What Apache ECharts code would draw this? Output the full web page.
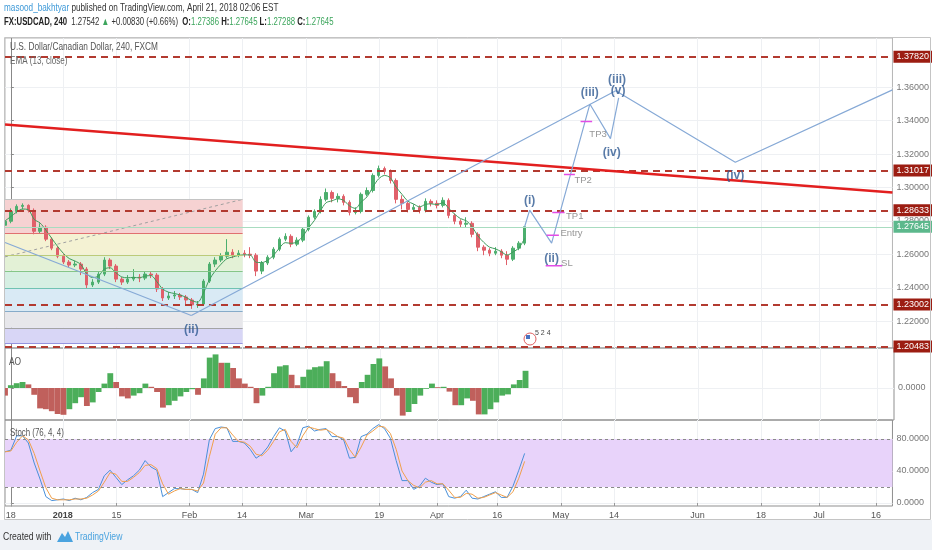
<!DOCTYPE html>
<html>
<head>
<meta charset="utf-8">
<script src="https://cdn.jsdelivr.net/npm/echarts@6/dist/echarts.min.js"></script>
<style>
html,body{margin:0;padding:0;background:#fff;}
#main{width:932px;height:550px;}
</style>
</head>
<body>
<div id="main"></div>
<script>
const FONT = '"Liberation Sans","DejaVu Sans",sans-serif';

// x = trading-day index, 0 = Mon 18 Dec 2017
const xTickPos  = [0, 8.9, 18.1, 30.6, 39.6, 50.6, 63.1, 73.0, 83.3, 94.2, 103.3, 117.6, 128.5, 138.4, 148.2];
const xTickText = ['18', '2018', '15', 'Feb', '14', 'Mar', '19', 'Apr', '16', 'May', '14', 'Jun', '18', 'Jul', '16'];
const priceTicks = [1.22, 1.24, 1.26, 1.28, 1.30, 1.32, 1.34, 1.36];
const aoTicks = [0];
const stochTicks = [0, 40, 80];

const firstDay = -1;
// daily [open, close, low, high]
const candles = [
  [1.2774,1.2798,1.2756,1.2839],[1.2798,1.2857,1.2786,1.2875],[1.2857,1.2887,1.2845,1.2899],
  [1.2887,1.2893,1.2869,1.2905],[1.2893,1.2863,1.2851,1.2899],[1.2863,1.2738,1.2720,1.2875],
  [1.2738,1.2762,1.2726,1.2786],[1.2762,1.2691,1.2679,1.2774],[1.2691,1.2637,1.2625,1.2702],
  [1.2637,1.2589,1.2577,1.2649],[1.2589,1.2554,1.2542,1.2601],[1.2554,1.2536,1.2524,1.2566],
  [1.2536,1.2542,1.2524,1.2560],[1.2542,1.2512,1.2476,1.2554],[1.2512,1.2417,1.2393,1.2524],
  [1.2417,1.2434,1.2405,1.2452],[1.2434,1.2482,1.2423,1.2494],[1.2482,1.2566,1.2470,1.2583],
  [1.2566,1.2530,1.2512,1.2577],[1.2530,1.2452,1.2434,1.2542],[1.2452,1.2434,1.2417,1.2464],
  [1.2434,1.2452,1.2423,1.2476],[1.2452,1.2464,1.2440,1.2512],[1.2464,1.2458,1.2434,1.2482],
  [1.2458,1.2482,1.2446,1.2500],[1.2482,1.2476,1.2458,1.2494],[1.2476,1.2393,1.2375,1.2488],
  [1.2393,1.2339,1.2321,1.2405],[1.2339,1.2351,1.2327,1.2375],[1.2351,1.2357,1.2333,1.2381],
  [1.2357,1.2345,1.2327,1.2369],[1.2345,1.2327,1.2303,1.2357],[1.2327,1.2298,1.2274,1.2339],
  [1.2298,1.2303,1.2280,1.2321],[1.2303,1.2440,1.2292,1.2452],[1.2440,1.2542,1.2429,1.2554],
  [1.2542,1.2566,1.2524,1.2583],[1.2566,1.2589,1.2554,1.2607],[1.2589,1.2613,1.2577,1.2691],
  [1.2613,1.2595,1.2577,1.2631],[1.2595,1.2607,1.2583,1.2625],[1.2607,1.2601,1.2583,1.2625],
  [1.2601,1.2595,1.2577,1.2643],[1.2595,1.2500,1.2470,1.2607],[1.2500,1.2548,1.2482,1.2560],
  [1.2548,1.2583,1.2536,1.2595],[1.2583,1.2631,1.2571,1.2643],[1.2631,1.2691,1.2619,1.2702],
  [1.2691,1.2708,1.2679,1.2726],[1.2708,1.2661,1.2643,1.2720],[1.2661,1.2685,1.2649,1.2702],
  [1.2685,1.2750,1.2673,1.2762],[1.2750,1.2822,1.2738,1.2833],[1.2822,1.2857,1.2810,1.2869],
  [1.2857,1.2929,1.2845,1.2947],[1.2929,1.2970,1.2917,1.2994],[1.2970,1.2935,1.2911,1.2982],
  [1.2935,1.2947,1.2911,1.2965],[1.2947,1.2911,1.2893,1.2959],[1.2911,1.2851,1.2833,1.2923],
  [1.2851,1.2857,1.2839,1.2881],[1.2857,1.2959,1.2845,1.2970],[1.2959,1.2982,1.2947,1.3000],
  [1.2982,1.3072,1.2970,1.3084],[1.3072,1.3113,1.3060,1.3131],[1.3113,1.3096,1.3078,1.3125],
  [1.3096,1.3042,1.3024,1.3108],[1.3042,1.2929,1.2905,1.3054],[1.2929,1.2905,1.2869,1.2953],
  [1.2905,1.2869,1.2851,1.2917],[1.2869,1.2881,1.2857,1.2899],[1.2881,1.2863,1.2845,1.2893],
  [1.2863,1.2917,1.2851,1.2935],[1.2917,1.2905,1.2887,1.2929],[1.2905,1.2893,1.2875,1.2923],
  [1.2893,1.2923,1.2881,1.2941],[1.2923,1.2833,1.2816,1.2935],[1.2833,1.2798,1.2780,1.2845],
  [1.2798,1.2780,1.2762,1.2810],[1.2780,1.2786,1.2762,1.2822],[1.2786,1.2720,1.2702,1.2798],
  [1.2720,1.2643,1.2619,1.2732],[1.2643,1.2625,1.2595,1.2655],[1.2625,1.2607,1.2589,1.2637],
  [1.2607,1.2619,1.2595,1.2643],[1.2619,1.2595,1.2577,1.2631],[1.2595,1.2571,1.2536,1.2619],
  [1.2571,1.2637,1.2560,1.2649],[1.2637,1.2667,1.2625,1.2679],[1.2667,1.2765,1.2655,1.2765]
];
const emaValues = [
  1.2800,1.2826,1.2853,1.2871,1.2867,1.2809,1.2788,1.2745,1.2696,1.2648,1.2606,1.2575,1.2560,1.2539,1.2484,
  1.2461,1.2470,1.2512,1.2520,1.2490,1.2465,1.2460,1.2462,1.2460,1.2470,1.2473,1.2437,1.2393,1.2374,1.2366,
  1.2357,1.2343,1.2323,1.2314,1.2370,1.2448,1.2501,1.2541,1.2574,1.2584,1.2594,1.2597,1.2596,1.2553,1.2551,
  1.2565,1.2595,1.2638,1.2670,1.2666,1.2674,1.2708,1.2759,1.2803,1.2860,1.2909,1.2920,1.2932,1.2923,1.2890,
  1.2875,1.2913,1.2944,1.3002,1.3052,1.3072,1.3058,1.3002,1.2959,1.2918,1.2901,1.2884,1.2899,1.2902,1.2898,
  1.2909,1.2875,1.2841,1.2814,1.2801,1.2765,1.2710,1.2672,1.2643,1.2633,1.2616,1.2596,1.2614,1.2638,1.2695
];
const aoValues = [
  -0.0019,0.0007,0.0012,0.0015,0.0009,-0.0017,-0.0051,-0.0053,-0.0058,-0.0065,-0.0067,-0.0053,-0.0038,-0.0023,-0.0045,
  -0.0036,-0.0010,0.0011,0.0037,0.0015,-0.0021,-0.0026,-0.0019,-0.0013,0.0011,0.0003,-0.0010,-0.0049,-0.0043,-0.0032,
  -0.0021,-0.0010,-0.0003,-0.0017,0.0024,0.0076,0.0084,0.0063,0.0063,0.0050,0.0024,0.0011,0.0003,-0.0038,-0.0019,
  0.0003,0.0037,0.0054,0.0057,0.0033,0.0007,0.0028,0.0046,0.0052,0.0054,0.0067,0.0037,0.0017,0.0005,-0.0023,
  -0.0038,0.0015,0.0033,0.0060,0.0074,0.0054,0.0024,-0.0019,-0.0069,-0.0060,-0.0040,-0.0019,-0.0002,0.0011,0.0002,
  0.0003,-0.0009,-0.0043,-0.0043,-0.0026,-0.0032,-0.0066,-0.0066,-0.0053,-0.0036,-0.0019,-0.0016,0.0009,0.0020,0.0043
];
const stochK = [
  64,66,84,84,75,50,30,8,3,4,5,3,6,4,7,13,17,34,41,32,23,29,34,41,53,45,41,8,13,18,
  18,17,17,13,36,79,93,95,94,77,77,75,67,56,61,70,83,94,90,64,73,94,96,90,92,93,83,83,79,56,
  57,83,86,93,98,93,81,53,28,28,17,21,31,26,23,24,8,6,8,16,6,5,8,11,14,7,7,21,41,62
];
const stochD = [
  64,65,76,84,79,62,40,19,6,4,4,4,5,5,6,10,15,26,38,36,27,27,32,38,47,48,43,24,11,15,
  18,17,17,15,25,58,86,94,94,85,77,76,71,61,59,66,77,89,92,77,69,84,95,93,91,92,88,83,81,67,
  57,70,85,90,96,95,87,67,40,28,22,19,26,28,24,24,16,7,7,12,11,6,7,10,13,10,7,14,31,52
];

const levelPrices = [1.37820, 1.31017, 1.28633, 1.23002, 1.20483];
const lastPrice = 1.27645;

// fibonacci box
const fibX = [-1, 39.7];
const fibPrices = [1.2929, 1.2726, 1.2597, 1.2502, 1.2399, 1.2258, 1.2161, 1.2069];
const fibFills = ['#f6d2d2', '#f4f2d3', '#e3f1d6', '#d6efe3', '#d9eaf5', '#e7e7eb', '#d8d6f6'];
const fibLines = ['#c4c4c4', '#e07070', '#bccb78', '#86c688', '#70c2b3', '#86abc9', '#a4a4a4', '#9494e0'];

// drawings [day, price]
const trendLine = [[-1, 1.3376], [151, 1.2970]];
const dottedLine = [[-1, 1.2585], [39.7, 1.2929]];
const waveLeft = [[-1, 1.2671], [30.91, 1.2234]];
const waveBig = [[30.91, 1.2234], [103.6, 1.3578], [124.08, 1.3151], [151, 1.3584]];
const waveSmall = [[88, 1.2765], [88.86, 1.2865], [92.62, 1.2667], [99.17, 1.3499], [102.7, 1.3292], [104.1, 1.3536]];
const tradeMarks = [
  { name: 'TP3', from: 97.58, to: 99.56, price: 1.3395, labelDay: 99.0, labelPrice: 1.3316 },
  { name: 'TP2', from: 94.73, to: 96.61, price: 1.3078, labelDay: 96.44, labelPrice: 1.3044 },
  { name: 'TP1', from: 92.73, to: 94.85, price: 1.2850, labelDay: 95.0, labelPrice: 1.2829 },
  { name: 'Entry', from: 91.77, to: 93.87, price: 1.2714, labelDay: 94.04, labelPrice: 1.2726 },
  { name: 'SL', from: 91.6, to: 94.44, price: 1.2532, labelDay: 94.16, labelPrice: 1.2547 }
];
const waveLabels = [
  ['(i)', 88.86, 1.2919], ['(ii)', 92.62, 1.2577], ['(iii)', 99.17, 1.3564], ['(iv)', 102.9, 1.3207],
  ['(iii)', 103.84, 1.3644], ['(v)', 104.0, 1.3578], ['(iv)', 124.08, 1.3072], ['(ii)', 30.91, 1.2149]
];

const UP = '#4caf6e', DOWN = '#e0606a';

function xLabel(v) {
  const i = xTickPos.findIndex(p => Math.abs(p - v) < 1e-6);
  if (i < 0) return '';
  return xTickText[i] === '2018' ? '{b|2018}' : xTickText[i];
}
function xAxisCfg(idx, showLabels) {
  return {
    type: 'value', gridIndex: idx, min: -1, max: 151,
    axisLine: { show: false },
    axisTick: { show: showLabels, customValues: xTickPos, length: 3, lineStyle: { color: '#999' } },
    axisLabel: {
      show: showLabels, customValues: xTickPos, formatter: xLabel, color: '#555',
      fontSize: 9, fontFamily: FONT, margin: 5,
      rich: { b: { fontWeight: 'bold', fontSize: 9, color: '#444', fontFamily: FONT } }
    },
    splitLine: { show: true, lineStyle: { color: '#eef0f3', width: 1 } }
  };
}
function yAxisCfg(idx, min, max, ticks, digits) {
  return {
    type: 'value', gridIndex: idx, position: 'right', min: min, max: max,
    axisLine: { show: true, lineStyle: { color: '#888' } },
    axisTick: { show: true, customValues: ticks, length: 3, lineStyle: { color: '#888' } },
    axisLabel: {
      customValues: ticks, formatter: v => v.toFixed(digits), color: '#777',
      fontSize: 9, fontFamily: FONT, margin: 4
    },
    splitLine: { show: true, lineStyle: { color: '#eef0f3', width: 1 } }
  };
}

const series = [];

// fib retracement box
series.push({
  type: 'line', name: 'fib', xAxisIndex: 0, yAxisIndex: 0, data: [], z: 1, silent: true,
  markArea: {
    silent: true,
    data: fibFills.map((c, i) => [
      { xAxis: fibX[0], yAxis: fibPrices[i], itemStyle: { color: c } },
      { xAxis: fibX[1], yAxis: fibPrices[i + 1] }
    ])
  },
  markLine: {
    silent: true, symbol: ['none', 'none'], label: { show: false }, precision: 5,
    data: fibPrices.map((p, i) => [
      { coord: [fibX[0], p], lineStyle: { color: fibLines[i], width: 1, type: 'solid' } },
      { coord: [fibX[1], p] }
    ])
  }
});
series.push({
  type: 'line', name: 'dotted', data: dottedLine, z: 2, silent: true, symbol: 'none',
  lineStyle: { color: '#a0a0a0', width: 1, type: [3, 3] }
});

series.push({
  type: 'candlestick', name: 'USDCAD', xAxisIndex: 0, yAxisIndex: 0, z: 3, silent: true,
  barWidth: 3, clip: true,
  data: candles.map((c, i) => [firstDay + i].concat(c)),
  itemStyle: { color: UP, color0: DOWN, borderColor: UP, borderColor0: DOWN, borderWidth: 1 },
  markLine: {
    silent: true, symbol: ['none', 'none'], precision: 5,
    lineStyle: { color: '#b23a30', type: [7, 5], width: 2 },
    label: {
      show: true, position: 'end', distance: 1, formatter: p => p.name,
      color: '#fff', backgroundColor: '#9c1d12', padding: [2, 3, 1, 3], fontSize: 9, fontFamily: FONT
    },
    data: levelPrices.map(v => ({ yAxis: v, name: v.toFixed(5) })).concat([{
      yAxis: lastPrice, name: lastPrice.toFixed(5), lineStyle: { color: '#a8dcc0', type: 'solid', width: 1 },
      label: { backgroundColor: '#5cb88c' }
    }])
  }
});

series.push({
  type: 'line', name: 'EMA', data: emaValues.map((v, i) => [firstDay + i, v]), z: 4, silent: true,
  symbol: 'none', smooth: 0.3, lineStyle: { color: '#3d9b5b', width: 1 }
});

series.push({
  type: 'line', name: 'trend', data: trendLine, z: 5, silent: true, symbol: 'none',
  lineStyle: { color: '#e21f1f', width: 2.5 }
});
[waveLeft, waveBig, waveSmall].forEach(w => series.push({
  type: 'line', data: w, z: 5, silent: true, symbol: 'none',
  lineStyle: { color: '#86a9d6', width: 1.2 }
}));
tradeMarks.forEach(m => series.push({
  type: 'line', data: [[m.from, m.price], [m.to, m.price]], z: 5, silent: true, symbol: 'none',
  lineStyle: { color: '#e24de6', width: 1.6 }
}));
series.push({
  type: 'scatter', data: tradeMarks.map(m => [m.labelDay, m.labelPrice, m.name]), z: 6, silent: true,
  symbolSize: 1, itemStyle: { color: 'rgba(0,0,0,0)' },
  label: { show: true, position: 'right', distance: 0, formatter: p => p.value[2], color: '#7b7b7b', fontSize: 9.5, fontFamily: FONT }
});
series.push({
  type: 'scatter', data: waveLabels.map(w => [w[1], w[2], w[0]]), z: 6, silent: true,
  symbolSize: 1, itemStyle: { color: 'rgba(0,0,0,0)' },
  label: {
    show: true, position: 'inside', formatter: p => p.value[2], color: '#2f5a92',
    fontSize: 12, fontWeight: 'bold', fontFamily: FONT
  }
});

// Awesome oscillator
series.push({
  type: 'bar', name: 'AO', xAxisIndex: 1, yAxisIndex: 1, silent: true, barWidth: '100%', clip: true,
  data: aoValues.map((v, i) => ({
    value: [firstDay + i, v],
    itemStyle: { color: (i > 0 && v >= aoValues[i - 1]) ? '#4cae5a' : '#c0605c' }
  }))
});

// Stochastic
series.push({
  type: 'line', name: 'K', xAxisIndex: 2, yAxisIndex: 2, silent: true, symbol: 'none', z: 3,
  data: stochK.map((v, i) => [firstDay + i, v]), lineStyle: { color: '#4a90d9', width: 1 },
  markArea: {
    silent: true, itemStyle: { color: '#e8d3fa' },
    data: [[{ xAxis: -1, yAxis: 20 }, { xAxis: 151, yAxis: 80 }]]
  },
  markLine: {
    silent: true, symbol: ['none', 'none'], label: { show: false },
    lineStyle: { color: '#8a8a8a', type: [3, 3], width: 1 },
    data: [{ yAxis: 20 }, { yAxis: 80 }]
  }
});
series.push({
  type: 'line', name: 'D', xAxisIndex: 2, yAxisIndex: 2, silent: true, symbol: 'none', z: 3,
  data: stochD.map((v, i) => [firstDay + i, v]), lineStyle: { color: '#f0a04b', width: 1 }
});

// narrow text: the original uses a condensed face
const txt = (x, y, text, fill, sx, extra) => ({
  type: 'text', x: x, y: y, scaleX: sx, silent: true, z: 60,
  style: Object.assign({ text: text, fill: fill, font: '10.5px ' + FONT, verticalAlign: 'middle' }, extra || {})
});

const option = {
  backgroundColor: '#ffffff',
  animation: false,
  grid: [
    { left: 5, top: 38, width: 889, height: 310, show: true, borderColor: '#b5b5b5', borderWidth: 1, backgroundColor: '#fff' },
    { left: 5, top: 348, width: 889, height: 72, show: true, borderColor: '#8f8f8f', borderWidth: 1 },
    { left: 5, top: 420, width: 889, height: 86, show: true, borderColor: '#8f8f8f', borderWidth: 1 }
  ],
  xAxis: [xAxisCfg(0, false), xAxisCfg(1, false), xAxisCfg(2, true)],
  yAxis: [
    yAxisCfg(0, 1.2040, 1.3894, priceTicks, 5),
    yAxisCfg(1, -0.008, 0.010, aoTicks, 4),
    yAxisCfg(2, -3.75, 103.75, stochTicks, 4)
  ],
  series: series,
  graphic: [
    { type: 'rect', silent: true, z: -1, shape: { x: 0, y: 520, width: 932, height: 30 }, style: { fill: '#eff2f6' } },
    { type: 'rect', silent: true, z: 45, shape: { x: 0, y: 38, width: 4.5, height: 482 }, style: { fill: '#fff' } },
    { type: 'rect', silent: true, z: 50, shape: { x: 4.5, y: 37.5, width: 926, height: 482 }, style: { fill: 'none', stroke: '#c4c4c4', lineWidth: 1 } },
    txt(4, 8, '{u|masood_bakhtyar}{t| published on TradingView.com, April 21, 2018 02:06 EST}', '#333', 0.78, {
      rich: { u: { fill: '#3f9ad8', font: '10.5px ' + FONT }, t: { fill: '#333', font: '10.5px ' + FONT } }
    }),
    txt(4, 22, '{b|FX:USDCAD, 240}{t|  1.27542 }{g|▲}{t| +0.00830 (+0.66%)  }{b|O:}{g|1.27386}{t| }{b|H:}{g|1.27645}{t| }{b|L:}{g|1.27288}{t| }{b|C:}{g|1.27645}', '#333', 0.74, {
      rich: {
        b: { fill: '#222', font: 'bold 10.5px ' + FONT },
        t: { fill: '#333', font: '10.5px ' + FONT },
        g: { fill: '#3ca55c', font: '10.5px ' + FONT }
      }
    }),
    txt(10, 47.5, 'U.S. Dollar/Canadian Dollar, 240, FXCM', '#555', 0.79),
    txt(10, 61, 'EMA (13, close)', '#666', 0.77),
    txt(9, 362, 'AO', '#555', 0.8),
    txt(10, 433, 'Stoch (76, 4, 4)', '#555', 0.75),
    txt(3, 537, 'Created with', '#333', 0.82),
    { type: 'polygon', silent: true, shape: { points: [[57, 542], [62, 533], [65, 537], [68, 531], [73, 542]] }, style: { fill: '#4aa3df' } },
    txt(75, 537, 'TradingView', '#4aa3df', 0.82),
    { type: 'circle', silent: true, z: 40, shape: { cx: 530, cy: 339, r: 6 }, style: { fill: '#fff', stroke: '#e06060', lineWidth: 1 } },
    { type: 'rect', silent: true, z: 41, shape: { x: 526, y: 335, width: 4, height: 4 }, style: { fill: '#4a72c0' } },
    txt(535, 333, '5 2 4', '#444', 1, { font: '7px ' + FONT })
  ]
};

const chart = echarts.init(document.getElementById('main'), null, { renderer: 'canvas' });
chart.setOption(option);
</script>
</body>
</html>
